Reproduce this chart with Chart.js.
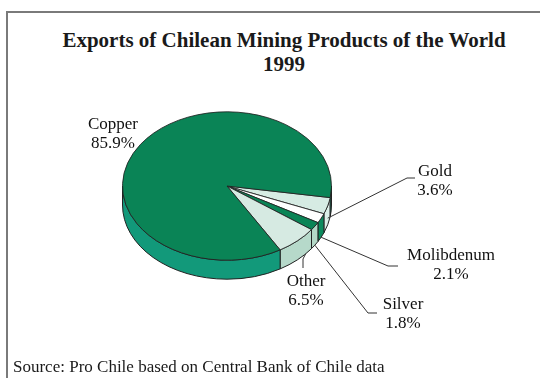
<!DOCTYPE html>
<html>
<head>
<meta charset="utf-8">
<title>Exports of Chilean Mining Products</title>
<script src="https://cdn.jsdelivr.net/npm/chart.js@4.4.1/dist/chart.umd.min.js"></script>
<style>
    html, body { margin: 0; padding: 0; background: #fff; }
    #wrap { position: relative; width: 540px; height: 378px; overflow: hidden;
            font-family: "Liberation Serif", "DejaVu Serif", serif; color: #1a1a1a; }
    #frame { position: absolute; left: 6px; top: 11px; width: 560px; height: 400px;
             border-top: 2px solid #7a7a7a; border-left: 2px solid #7a7a7a; }
    #title { position: absolute; left: 14px; top: 28px; width: 540px; text-align: center;
             font-size: 21px; font-weight: bold; line-height: 24px; }
    #source { position: absolute; left: 13px; top: 358px; font-size: 17px; line-height: 18px; white-space: nowrap; }
    #chart { position: absolute; left: 0; top: 0; }
</style>
</head>
<body>
<div id="wrap">
    <div id="frame"></div>
    <div id="title">Exports of Chilean Mining Products of the World<br>1999</div>
    <canvas id="chart" width="540" height="378"></canvas>
    <div id="source">Source: Pro Chile based on Central Bank of Chile data</div>
</div>
<script>
// Exports by product, % of total
const products = ['Gold', 'Molibdenum', 'Silver', 'Other', 'Copper'];
const shares = [3.6, 2.1, 1.8, 6.5, 85.9];

// top face and rim colours per slice
const topColors = ['#d6ebe3', '#ffffff', '#0a8456', '#d6eae2', '#0a8456'];
const sideColors = ['#dcefe8', '#0d8b5e', '#b3d8c7', '#b6d9ca', '#12997a'];

// label placement: text centre, leader polyline after the anchor on the rim
const calloutLayout = [
    { at: [435, 172], anchor: [0.5, 0.65], line: [[407, 178], [415, 178]] },
    { at: [451, 256], anchor: [0.5, 1.0], line: [[388, 266], [398, 266]] },
    { at: [403, 305], anchor: [0.5, 1.0], line: [[368, 313], [377, 313]] },
    { at: [306, 282], anchor: [0.22, 1.0], line: [[303, 259], [303, 268]] },
    { at: [113, 125], anchor: null, line: [] }
];

const TILT = 0.71;   // vertical squash of the disc
const DEPTH = 19;    // thickness of the rim in px

// draws the rim under the pie and squashes the top face into an ellipse
const tiltedPie = {
    id: 'tiltedPie',
    beforeDatasetsDraw(chart) {
        const ctx = chart.ctx;
        const arcs = chart.getDatasetMeta(0).data;
        const { x, y, outerRadius } = arcs[0].getProps(['x', 'y', 'outerRadius'], true);
        const ry = outerRadius * TILT;
        ctx.save();
        ctx.lineWidth = 1;
        ctx.strokeStyle = '#222';
        arcs.forEach(function(arc, i) {
            const { startAngle, endAngle } = arc.getProps(['startAngle', 'endAngle'], true);
            // only the front half of the rim is visible
            [0, 2 * Math.PI].forEach(function(base) {
                const a = Math.max(startAngle, base);
                const b = Math.min(endAngle, base + Math.PI);
                if (b <= a) return;
                ctx.beginPath();
                ctx.ellipse(x, y, outerRadius, ry, 0, a, b);
                ctx.ellipse(x, y + DEPTH, outerRadius, ry, 0, b, a, true);
                ctx.closePath();
                ctx.fillStyle = sideColors[i];
                ctx.fill();
                ctx.stroke();
            });
        });
        ctx.restore();

        ctx.save();
        ctx.translate(x, y);
        ctx.scale(1, TILT);
        ctx.translate(-x, -y);
    },
    afterDatasetsDraw(chart) {
        chart.ctx.restore();
    }
};

// product names, percentages and leader lines
const callouts = {
    id: 'callouts',
    afterDraw(chart) {
        const ctx = chart.ctx;
        const arcs = chart.getDatasetMeta(0).data;
        ctx.save();
        ctx.strokeStyle = '#333';
        ctx.lineWidth = 1;
        ctx.fillStyle = '#111';
        ctx.font = '17px "Liberation Serif", serif';
        ctx.textAlign = 'center';
        ctx.textBaseline = 'middle';
        arcs.forEach(function(arc, i) {
            const lay = calloutLayout[i];
            if (lay.anchor) {
                const p = arc.getProps(['x', 'y', 'startAngle', 'endAngle', 'outerRadius'], true);
                const t = p.startAngle + lay.anchor[0] * (p.endAngle - p.startAngle);
                const ax = p.x + p.outerRadius * Math.cos(t);
                const ay = p.y + p.outerRadius * TILT * Math.sin(t) + DEPTH * lay.anchor[1];
                ctx.beginPath();
                ctx.moveTo(ax, ay);
                lay.line.forEach(function(pt) { ctx.lineTo(pt[0], pt[1]); });
                ctx.stroke();
            }
            ctx.fillText(products[i], lay.at[0], lay.at[1]);
            ctx.fillText(shares[i].toFixed(1) + '%', lay.at[0], lay.at[1] + 19);
        });
        ctx.restore();
    }
};

new Chart(document.getElementById('chart'), {
    type: 'pie',
    data: {
        labels: products,
        datasets: [{
            data: shares,
            backgroundColor: topColors,
            borderColor: '#222',
            borderWidth: 1
        }]
    },
    options: {
        responsive: false,
        animation: false,
        events: [],
        rotation: 99,
        layout: { padding: { left: 122, right: 208, top: 81, bottom: 87 } },
        plugins: {
            legend: { display: false },
            title: { display: false },
            tooltip: { enabled: false }
        }
    },
    plugins: [tiltedPie, callouts]
});
</script>
</body>
</html>
